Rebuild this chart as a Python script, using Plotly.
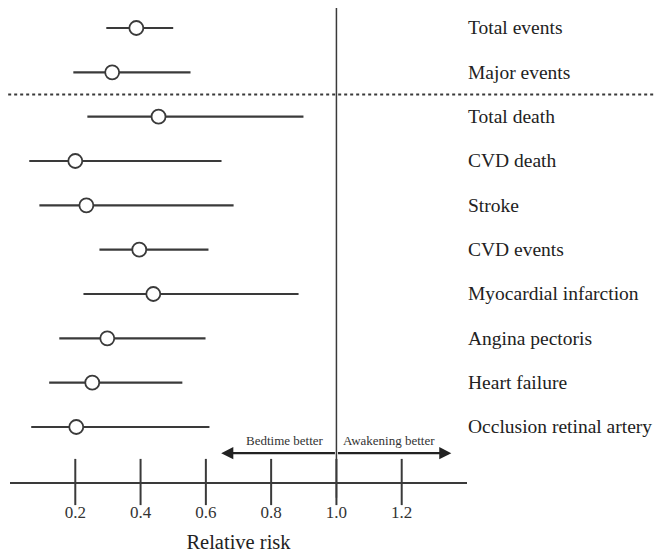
import plotly.graph_objects as go

outcomes = ["Total events", "Major events", "Total death", "CVD death", "Stroke",
            "CVD events", "Myocardial infarction", "Angina pectoris", "Heart failure",
            "Occlusion retinal artery"]
rr = [0.387, 0.313, 0.455, 0.200, 0.234, 0.396, 0.439, 0.298, 0.252, 0.203]
ci_low = [0.295, 0.194, 0.237, 0.059, 0.090, 0.274, 0.225, 0.151, 0.120, 0.065]
ci_high = [0.500, 0.553, 0.899, 0.648, 0.685, 0.608, 0.884, 0.599, 0.528, 0.611]
tick_vals = [0.2, 0.4, 0.6, 0.8, 1.0, 1.2]
tick_text = ["0.2", "0.4", "0.6", "0.8", "1.0", "1.2"]

rows = list(range(len(outcomes)))
SERIF = "Liberation Serif, Times New Roman, serif"
INK = "#3a3a3a"
Y_BOTTOM, Y_TOP = 10.241, -0.451

fig = go.Figure()

fig.add_trace(go.Scatter(
    x=rr, y=rows, mode="markers",
    marker=dict(symbol="circle", size=14, color="white",
                line=dict(color=INK, width=1.8)),
    error_x=dict(type="data", symmetric=False,
                 array=[h - e for h, e in zip(ci_high, rr)],
                 arrayminus=[e - l for e, l in zip(rr, ci_low)],
                 width=0, thickness=2.2, color=INK),
    showlegend=False, hoverinfo="skip",
))

# tick marks crossing the axis line
fig.add_trace(go.Scatter(
    x=tick_vals, y=[Y_BOTTOM] * len(tick_vals), mode="markers",
    marker=dict(symbol="line-ns", size=33, line=dict(color=INK, width=2)),
    cliponaxis=False, showlegend=False, hoverinfo="skip",
))

annotations = []
for name, r in zip(outcomes, rows):
    annotations.append(dict(x=1.4, y=r, xref="x", yref="y", text=name,
                            showarrow=False, xanchor="left", xshift=-1,
                            font=dict(family=SERIF, size=19.5, color="#222")))

arrow_row = 9.59
annotations += [
    dict(x=0.647, y=arrow_row, ax=1.0, ay=arrow_row, xref="x", yref="y",
         axref="x", ayref="y", showarrow=True, arrowhead=2, arrowsize=1.1,
         arrowwidth=2.2, arrowcolor="#222", text=""),
    dict(x=1.352, y=arrow_row, ax=1.0, ay=arrow_row, xref="x", yref="y",
         axref="x", ayref="y", showarrow=True, arrowhead=2, arrowsize=1.1,
         arrowwidth=2.2, arrowcolor="#222", text=""),
    dict(x=1.0, y=arrow_row, xref="x", yref="y", text="Bedtime better",
         showarrow=False, xanchor="right", yanchor="bottom", xshift=-10, yshift=3,
         font=dict(family=SERIF, size=13, color="#333")),
    dict(x=1.0, y=arrow_row, xref="x", yref="y", text="Awakening better",
         showarrow=False, xanchor="left", yanchor="bottom", xshift=5, yshift=3,
         font=dict(family=SERIF, size=13, color="#333")),
]

shapes = [
    dict(type="line", xref="x", yref="paper", x0=1.0, x1=1.0, y0=-0.033, y1=1.0,
         line=dict(color=INK, width=1.5)),
    dict(type="line", xref="paper", yref="y", x0=-0.004, x1=1.42, y0=1.5, y1=1.5,
         line=dict(color=INK, width=2, dash="dot")),
]

fig.update_layout(
    width=656, height=553,
    margin=dict(l=10, r=189, t=8, b=71),
    paper_bgcolor="white", plot_bgcolor="white",
    annotations=annotations, shapes=shapes,
    xaxis=dict(range=[0, 1.4], tickvals=tick_vals, ticktext=tick_text,
               showline=True, linecolor=INK, linewidth=1.8, showgrid=False,
               zeroline=False, ticks="outside", ticklen=14,
               tickcolor="rgba(0,0,0,0)",
               tickfont=dict(family=SERIF, size=17, color="#333"),
               title=dict(text="Relative risk", standoff=17,
                          font=dict(family=SERIF, size=20.5, color="#222")),
               automargin=False),
    yaxis=dict(range=[Y_BOTTOM, Y_TOP], visible=False),
)

fig.write_html("out.html", config={"displayModeBar": False},
               post_script="document.body.style.margin='0';document.body.style.overflow='hidden';")
